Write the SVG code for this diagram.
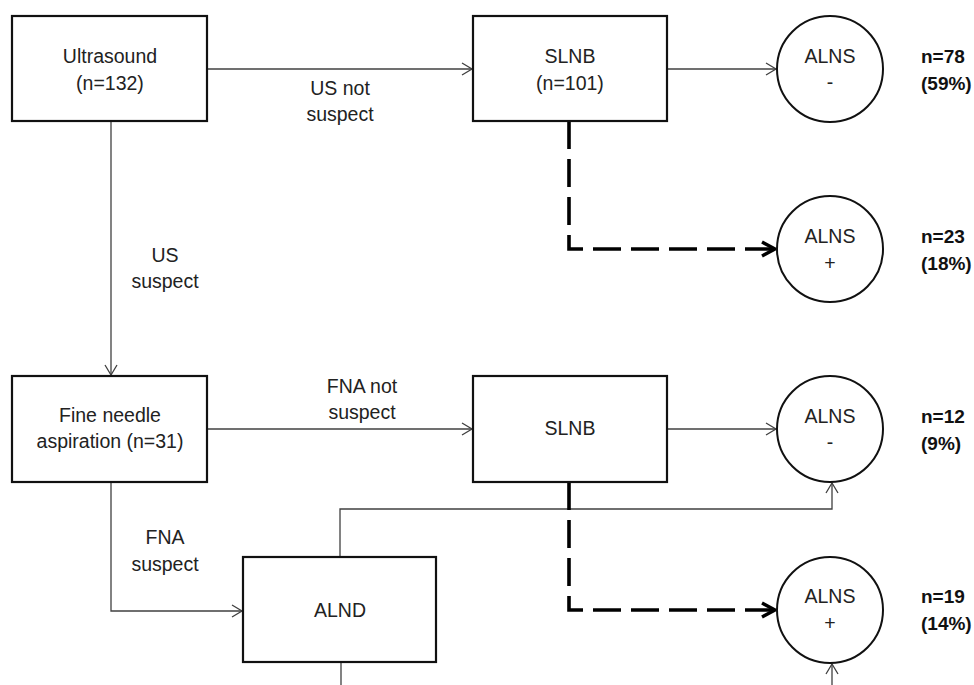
<svg xmlns="http://www.w3.org/2000/svg" width="974" height="685" viewBox="0 0 974 685">
<style>
.box{fill:#fff;stroke:#111;stroke-width:2.2}
.circ{fill:#fff;stroke:#111;stroke-width:2}
.t{font-family:"Liberation Sans",Arial,sans-serif;font-size:19.5px;fill:#222;text-anchor:middle}
.lbl{font-family:"Liberation Sans",Arial,sans-serif;font-size:19px;font-weight:bold;fill:#111}
.thin{fill:none;stroke:#404040;stroke-width:1.3}
.dash{fill:none;stroke:#000;stroke-width:3.6;stroke-dasharray:28 10}
</style>
<defs>
<marker id="ah" markerUnits="userSpaceOnUse" markerWidth="14" markerHeight="14" refX="11" refY="7" orient="auto" overflow="visible">
<path d="M1,1 L11,7 L1,13" fill="none" stroke="#404040" stroke-width="1.3"/>
</marker>
<marker id="ahb" markerUnits="userSpaceOnUse" markerWidth="18" markerHeight="18" refX="15" refY="9" orient="auto" overflow="visible">
<path d="M2,2 L15,9 L2,16" fill="none" stroke="#000" stroke-width="3.4"/>
</marker>
</defs>
<rect width="974" height="685" fill="#fff"/>
<g id="connectors">
<path class="thin" d="M207,69 H472" marker-end="url(#ah)"/>
<path class="thin" d="M667,69 H776" marker-end="url(#ah)"/>
<path class="thin" d="M111,121 V375" marker-end="url(#ah)"/>
<path class="thin" d="M207,429 H472" marker-end="url(#ah)"/>
<path class="thin" d="M667,429 H776" marker-end="url(#ah)"/>
<path class="thin" d="M111,482 V611 H242" marker-end="url(#ah)"/>
<path class="thin" d="M340,557 V509 H832 V483" marker-end="url(#ah)"/>
<path class="thin" d="M341,662 V685"/>
<path class="thin" d="M832,685 V664" marker-end="url(#ah)"/>
<path class="dash" d="M569,121 V249 H775" marker-end="url(#ahb)"/>
<path class="dash" d="M569,482 V610 H775" marker-end="url(#ahb)"/>
<text class="t" x="340" y="95">US not</text>
<text class="t" x="340" y="121">suspect</text>
<text class="t" x="165" y="262">US</text>
<text class="t" x="165" y="288">suspect</text>
<text class="t" x="362" y="393">FNA not</text>
<text class="t" x="362" y="419">suspect</text>
<text class="t" x="165" y="544">FNA</text>
<text class="t" x="165" y="571">suspect</text>
</g>
<g id="ultrasound">
<rect class="box" x="12" y="16" width="195" height="105"/>
<text class="t" x="110" y="63">Ultrasound</text>
<text class="t" x="110" y="90">(n=132)</text>
</g>
<g id="slnb1">
<rect class="box" x="473" y="16" width="194" height="105"/>
<text class="t" x="570" y="63">SLNB</text>
<text class="t" x="570" y="90">(n=101)</text>
</g>
<g id="alns1">
<circle class="circ" cx="830" cy="69" r="53"/>
<text class="t" x="830" y="63">ALNS</text>
<text class="t" x="830" y="89">-</text>
<text class="lbl" x="921" y="63">n=78</text>
<text class="lbl" x="921" y="90">(59%)</text>
</g>
<g id="alns2">
<circle class="circ" cx="830" cy="249" r="53"/>
<text class="t" x="830" y="243">ALNS</text>
<text class="t" x="830" y="270">+</text>
<text class="lbl" x="921" y="243">n=23</text>
<text class="lbl" x="921" y="270">(18%)</text>
</g>
<g id="fna">
<rect class="box" x="12" y="376" width="195" height="106"/>
<text class="t" x="110" y="422">Fine needle</text>
<text class="t" x="110" y="448">aspiration (n=31)</text>
</g>
<g id="slnb2">
<rect class="box" x="473" y="376" width="194" height="106"/>
<text class="t" x="570" y="435">SLNB</text>
</g>
<g id="alns3">
<circle class="circ" cx="830" cy="429" r="53"/>
<text class="t" x="830" y="423">ALNS</text>
<text class="t" x="830" y="449">-</text>
<text class="lbl" x="921" y="423">n=12</text>
<text class="lbl" x="921" y="450">(9%)</text>
</g>
<g id="alnd">
<rect class="box" x="243" y="557" width="193" height="105"/>
<text class="t" x="340" y="617">ALND</text>
</g>
<g id="alns4">
<circle class="circ" cx="830" cy="610" r="53"/>
<text class="t" x="830" y="603">ALNS</text>
<text class="t" x="830" y="630">+</text>
<text class="lbl" x="921" y="603">n=19</text>
<text class="lbl" x="921" y="630">(14%)</text>
</g>
</svg>
